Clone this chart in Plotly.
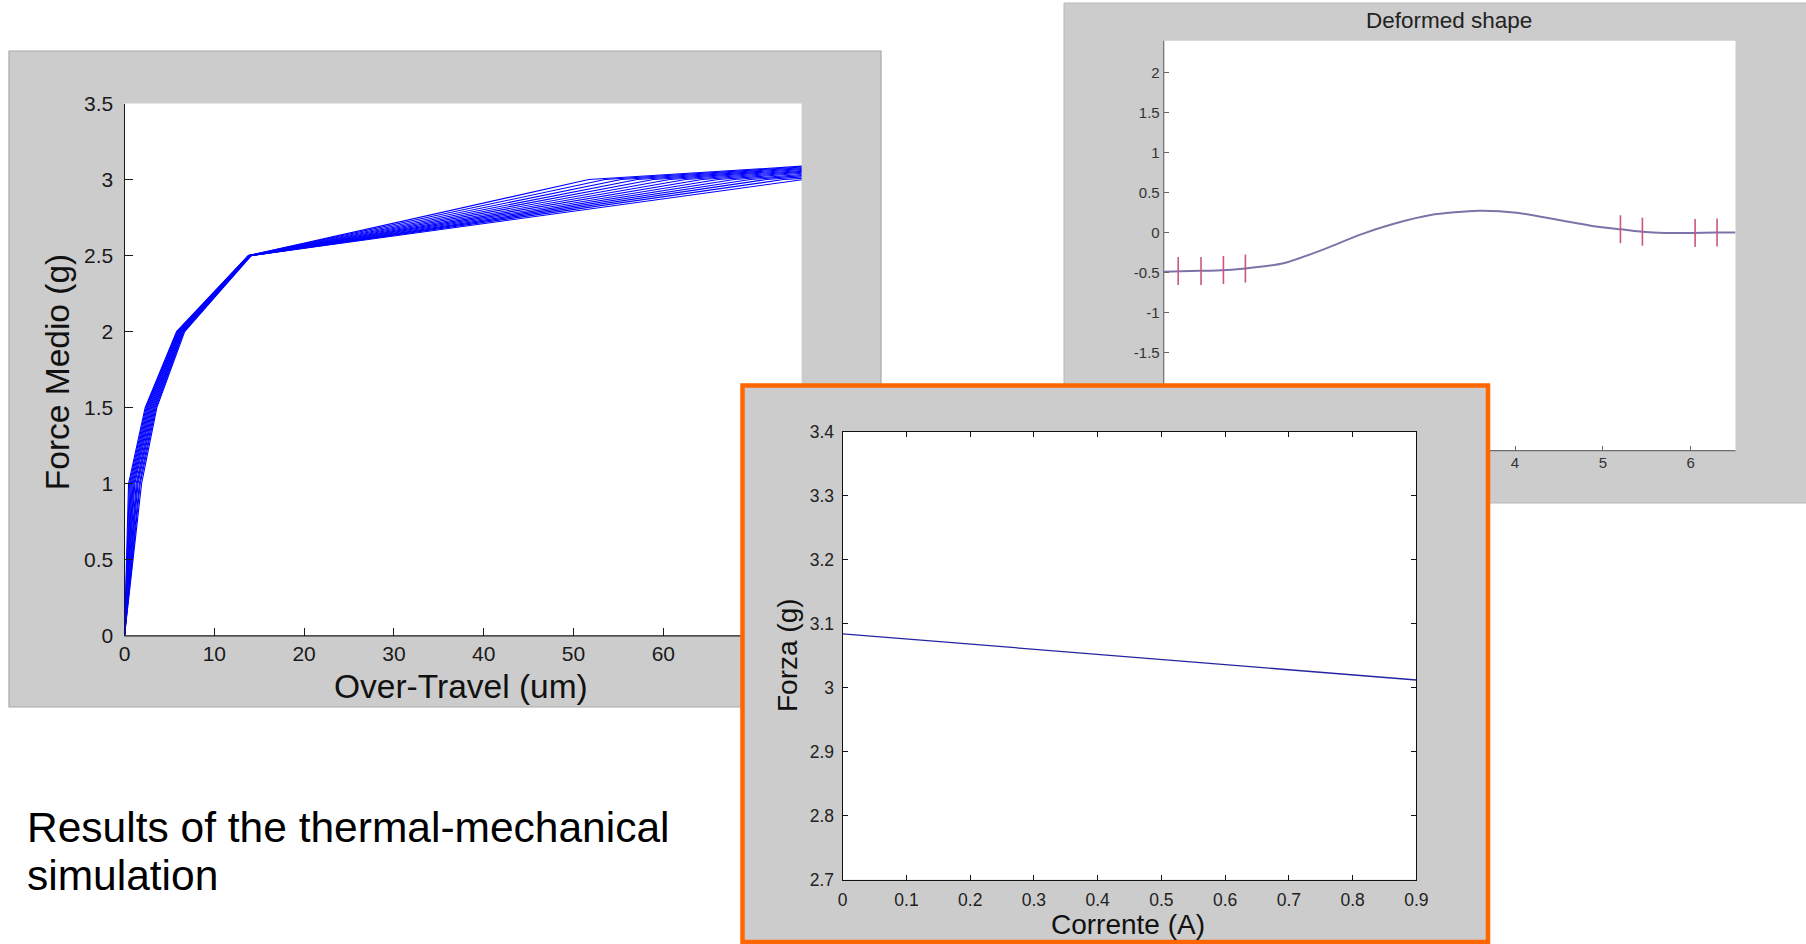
import plotly.graph_objects as go

W, H = 1806, 944

# ---------------- data ----------------
# Left panel: family of force curves (x breakpoints for each curve)
lf_x10 = [0.45, 0.55, 0.65, 0.75, 0.85, 0.95, 1.05, 1.15, 1.30, 1.40, 1.50, 1.65, 1.75, 1.90]
lf_x15 = [2.30, 2.40, 2.50, 2.60, 2.70, 2.80, 2.90, 3.00, 3.10, 3.20, 3.30, 3.40, 3.50, 3.60]
lf_x20 = [5.80, 5.87, 5.94, 6.00, 6.07, 6.14, 6.20, 6.27, 6.34, 6.40, 6.47, 6.54, 6.60, 6.70]
lf_x25 = [13.80, 13.80, 13.85, 13.85, 13.90, 13.90, 13.95, 13.95, 14.00, 14.00, 14.05, 14.05, 14.10, 14.10]
lf_x30 = [51.7, 53.5, 55.3, 57.1, 58.9, 60.7, 62.5, 64.3, 66.1, 67.9, 69.7, 71.5, 73.4, 75.6]
lf_xend = 76.0
lf_yend = [3.090, 3.085, 3.080, 3.074, 3.068, 3.062, 3.056, 3.050, 3.044, 3.036, 3.028, 3.020, 3.010, 2.998]
lf_ylevels = [0.0, 1.0, 1.5, 2.0, 2.5, 3.0]
lf_xticks = [0, 10, 20, 30, 40, 50, 60]
lf_yticks = [0, 0.5, 1, 1.5, 2, 2.5, 3, 3.5]

# Top-right panel: deformed shape
ds_x = [0.0, 0.30, 0.60, 0.93, 1.365, 1.80, 2.23, 2.61, 3.04, 3.58, 4.02, 4.50, 4.94, 5.21, 5.45, 5.70, 6.02, 6.29, 6.51]
ds_y = [-0.49, -0.48, -0.475, -0.45, -0.385, -0.22, -0.03, 0.106, 0.219, 0.273, 0.248, 0.156, 0.073, 0.04, 0.01, -0.005, -0.005, 0.0, 0.0]
ds_mx = [0.165, 0.425, 0.68, 0.93, 5.20, 5.45, 6.05, 6.30]
ds_my = [-0.48, -0.48, -0.47, -0.45, 0.04, 0.01, -0.005, 0.0]
ds_xticks = [4, 5, 6]
ds_yticks = [-1.5, -1, -0.5, 0, 0.5, 1, 1.5, 2]
ds_yticktext = ["-1.5", "-1", "-0.5", "0", "0.5", "1", "1.5", "2"]

# Orange panel: force vs current
fc_x = [0.0, 0.1, 0.2, 0.3, 0.4, 0.5, 0.6, 0.7, 0.8, 0.9]
fc_y = [3.084, 3.076, 3.068, 3.060, 3.052, 3.044, 3.036, 3.028, 3.020, 3.012]
fc_xticks = [0, 0.1, 0.2, 0.3, 0.4, 0.5, 0.6, 0.7, 0.8, 0.9]
fc_xticktext = ["0", "0.1", "0.2", "0.3", "0.4", "0.5", "0.6", "0.7", "0.8", "0.9"]
fc_yticks = [2.7, 2.8, 2.9, 3.0, 3.1, 3.2, 3.3, 3.4]
fc_yticktext = ["2.7", "2.8", "2.9", "3", "3.1", "3.2", "3.3", "3.4"]

# ---------------- layout helpers ----------------
def fx(px):
    return px / W

def fy(py):
    return 1 - py / H

FONT = "Liberation Sans, Arial, Helvetica, sans-serif"

# plot areas (pixels)
L = dict(x0=124.5, x1=801.6, y0=103.5, y1=635.8)
T = dict(x0=1163.7, x1=1735.5, y0=40.7, y1=450.7)
O = dict(x0=842.7, x1=1416.4, y0=431.5, y1=879.8)

fig = go.Figure()

# left panel curves
for i in range(len(lf_x10)):
    xs = [0.0, lf_x10[i], lf_x15[i], lf_x20[i], lf_x25[i], lf_x30[i], lf_xend]
    ys = lf_ylevels + [lf_yend[i]]
    fig.add_trace(go.Scatter(x=xs, y=ys, mode="lines", line=dict(color="#0000ff", width=1.1),
                             xaxis="x", yaxis="y", showlegend=False, hoverinfo="skip"))

# deformed shape
fig.add_trace(go.Scatter(x=ds_x, y=ds_y, mode="lines", line=dict(color="#7c74a8", width=2, shape="spline", smoothing=0.6),
                         xaxis="x2", yaxis="y2", showlegend=False, hoverinfo="skip"))
fig.add_trace(go.Scatter(x=ds_mx, y=ds_my, mode="markers",
                         marker=dict(symbol="line-ns", size=20, line=dict(color="#c8587a", width=1.6)),
                         xaxis="x2", yaxis="y2", showlegend=False, hoverinfo="skip"))

# force vs current
fig.add_trace(go.Scatter(x=fc_x, y=fc_y, mode="lines", line=dict(color="#2424a0", width=1.3),
                         xaxis="x3", yaxis="y3", showlegend=False, hoverinfo="skip"))

def rect(x0, y0, x1, y1, fill, line_color=None, lw=0):
    d = dict(type="rect", xref="paper", yref="paper", layer="below",
             x0=fx(x0), x1=fx(x1), y0=fy(y1), y1=fy(y0), fillcolor=fill)
    if line_color:
        d["line"] = dict(color=line_color, width=lw)
    else:
        d["line"] = dict(width=0)
    return d

def seg(x0, y0, x1, y1, color, lw=1):
    return dict(type="line", xref="paper", yref="paper", layer="below",
                x0=fx(x0), x1=fx(x1), y0=fy(y0), y1=fy(y1), line=dict(color=color, width=lw))

shapes = [
    # left panel
    rect(9, 51, 881, 707, "#cccccc", "#a8a8a8", 1.2),
    rect(L["x0"], L["y0"], L["x1"], L["y1"], "#ffffff"),
    seg(L["x0"], L["y1"], L["x1"], L["y1"], "#1a1a1a", 1.2),
    # top-right panel
    rect(1064, 3, 1812, 503, "#cccccc", "#b8b8b8", 1),
    rect(T["x0"], T["y0"], T["x1"], T["y1"], "#ffffff"),
    seg(T["x0"], T["y0"], T["x0"], T["y1"], "#6e6e6e", 1.2),
    seg(T["x0"], T["y1"], T["x1"], T["y1"], "#6e6e6e", 1.2),
    # orange panel
    rect(742.5, 385.5, 1488, 942, "#cccccc", "#ff6600", 4.5),
    rect(O["x0"], O["y0"], O["x1"], O["y1"], "#ffffff"),
]

axis_common = dict(showgrid=False, zeroline=False, ticks="inside", fixedrange=True, automargin=False)

fig.update_layout(
    template="none",
    width=W, height=H, autosize=False,
    margin=dict(l=0, r=0, t=0, b=0, pad=0, autoexpand=False),
    paper_bgcolor="#ffffff", plot_bgcolor="rgba(0,0,0,0)",
    font=dict(family=FONT, color="#1a1a1a"),
    showlegend=False,
    shapes=shapes,
    xaxis=dict(domain=[fx(L["x0"]), fx(L["x1"])], anchor="y", range=[0, 75.4],
               tickvals=lf_xticks, ticklen=8, tickcolor="#1a1a1a", tickwidth=1.2,
               showline=False, tickfont=dict(size=21, color="#1a1a1a"), ticklabelstandoff=3,
               **axis_common),
    yaxis=dict(domain=[fy(L["y1"]), fy(L["y0"])], anchor="x", range=[0, 3.5],
               tickvals=lf_yticks, ticklen=8, tickcolor="#1a1a1a", tickwidth=1.2,
               showline=True, linecolor="#1a1a1a", linewidth=1.2,
               tickfont=dict(size=21, color="#1a1a1a"), ticklabelstandoff=6,
               **axis_common),
    xaxis2=dict(domain=[fx(T["x0"]), fx(T["x1"])], anchor="y2", range=[0, 6.51],
                tickvals=ds_xticks, ticklen=5, tickcolor="#666666", tickwidth=1.2,
                showline=False, tickfont=dict(size=15, color="#333333"), ticklabelstandoff=1,
                **axis_common),
    yaxis2=dict(domain=[fy(T["y1"]), fy(T["y0"])], anchor="x2", range=[-2.73, 2.40],
                tickvals=ds_yticks, ticktext=ds_yticktext, ticklen=5, tickcolor="#666666", tickwidth=1.2,
                showline=False, tickfont=dict(size=15, color="#333333"), ticklabelstandoff=3,
                **axis_common),
    xaxis3=dict(domain=[fx(O["x0"]), fx(O["x1"])], anchor="y3", range=[0, 0.9],
                tickvals=fc_xticks, ticktext=fc_xticktext,
                ticklen=5, tickcolor="#111111", tickwidth=1,
                showline=True, linecolor="#111111", linewidth=1.2, mirror="ticks",
                tickfont=dict(size=17.5, color="#222222"), ticklabelstandoff=4,
                **axis_common),
    yaxis3=dict(domain=[fy(O["y1"]), fy(O["y0"])], anchor="x3", range=[2.7, 3.4],
                tickvals=fc_yticks, ticktext=fc_yticktext, ticklen=5, tickcolor="#111111", tickwidth=1,
                showline=True, linecolor="#111111", linewidth=1.2, mirror="ticks",
                tickfont=dict(size=17.5, color="#222222"), ticklabelstandoff=4,
                **axis_common),
)

def ann(text, x, y, size, angle=0, xanchor="center", yanchor="middle", color="#111111"):
    return dict(text=text, xref="paper", yref="paper", x=fx(x), y=fy(y), showarrow=False,
                xanchor=xanchor, yanchor=yanchor, textangle=angle,
                font=dict(size=size, color=color, family=FONT))

fig.update_layout(annotations=[
    ann("Force Medio (g)", 57.6, 372.6, 33.5, angle=-90),
    ann("Over-Travel (um)", 461, 686.5, 33.5),
    ann("Deformed shape", 1449, 21, 22.5, color="#222222"),
    ann("Forza (g)", 787, 655, 28, angle=-90),
    ann("Corrente (A)", 1128, 924, 28),
    ann("Results of the thermal-mechanical", 25, 827, 42.5, xanchor="left", color="#000000"),
    ann("simulation", 25, 875.5, 42.5, xanchor="left", color="#000000"),
])

fig.write_html(
    "out.html",
    config={"displayModeBar": False, "responsive": False},
    post_script="document.body.style.margin='0';document.body.style.padding='0';"
                "document.body.style.overflow='hidden';"
                "document.documentElement.style.overflow='hidden';",
)
